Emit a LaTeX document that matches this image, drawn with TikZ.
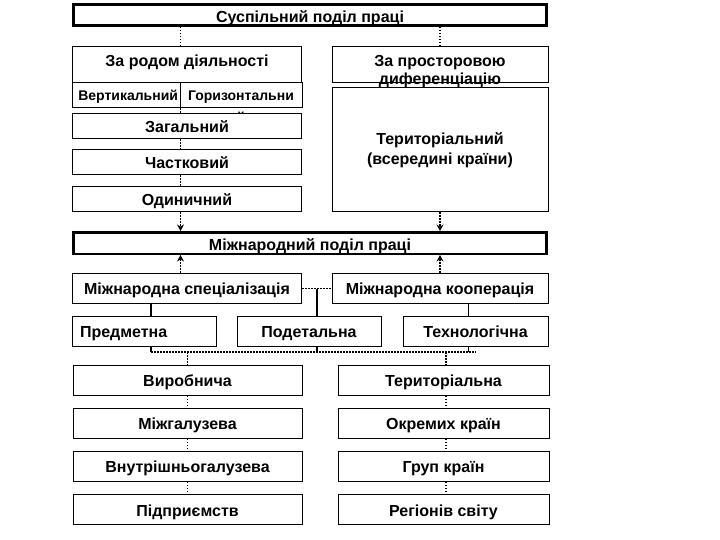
\documentclass[tikz,border=0pt]{standalone}
\usepackage{fontspec}
\setmainfont{Liberation Sans}
\usetikzlibrary{arrows.meta,calc}

\tikzset{
  box/.style={draw, line width=1pt, fill=white, inner sep=0pt, minimum height=30pt, text height=11.5pt, text depth=0pt, font=\bfseries\fontsize{16}{18}\selectfont},
  heavy/.style={box, line width=2.5pt},
  small/.style={font=\bfseries\fontsize{14}{22}\selectfont, inner sep=0pt},
  lbl/.style={font=\bfseries\fontsize{16}{18}\selectfont, inner sep=0pt},
  link/.style={line width=1.3pt, dash pattern=on 1.6pt off 1.4pt},
  tie/.style={line width=1.5pt},
  arr/.style={link, -{Stealth[length=6.5pt,width=7pt]}}
}

\begin{document}
\begin{tikzpicture}[x=1pt,y=-1pt]
\useasboundingbox (0,0) rectangle (720,540);

\node[heavy, minimum width=473pt, minimum height=21pt, text height=15pt] (soc) at (310,15) {Суспільний поділ праці};

\node[box, minimum width=229pt, minimum height=36pt, text depth=7pt] (rod) at (187,64.5) {За родом діяльності};
\node[box, small, minimum height=25pt, text height=10pt, text depth=0pt, text width=104pt, inner xsep=2pt, align=right] (vert) at (126,95.5) {Вертикальний};
\node[box, minimum width=122pt, minimum height=25pt] (horiz) at (241,95.5) {};
\node[small, anchor=north, align=center] (horlbl) at ([yshift=-8pt]horiz.north) {Горизонтальни\\й};

\node[box, minimum width=216pt, minimum height=36pt] (spat) at (440,64.5) {};
\node[lbl, anchor=north, align=center] (spatlbl) at ([yshift=-9pt]spat.north) {За просторовою\\диференціацію};
\node[box, minimum width=216pt, minimum height=124pt, text height={}, text depth={}, align=center, font=\bfseries\fontsize{16}{20}\selectfont] (terr) at (440,150) {Територіальний\\(всередині країни)};

\node[box, minimum width=229pt, minimum height=25pt] (gen) at (187,126.5) {Загальний};
\node[box, minimum width=229pt, minimum height=25pt] (part) at (187,162.5) {Частковий};
\node[box, minimum width=229pt, minimum height=25pt] (single) at (187,199.5) {Одиничний};

\node[heavy, minimum width=473pt, minimum height=21.5pt, text height=15pt] (intl) at (310,243) {Міжнародний поділ праці};

\node[box, minimum width=229pt] (spec) at (187,288.5) {Міжнародна спеціалізація};
\node[box, minimum width=216pt] (coop) at (440,288.5) {Міжнародна кооперація};

\node[box, text width=128pt, inner xsep=8pt, align=left] (subj) at (144,331.5) {Предметна};
\node[box, minimum width=144pt] (detail) at (309,331.5) {Подетальна};
\node[box, minimum width=145pt] (tech) at (475.5,331.5) {Технологічна};

\foreach \n/\y/\l/\r in {1/380/Виробнича/Територіальна, 2/423/Міжгалузева/Окремих країн, 3/466/Внутрішньогалузева/Груп країн, 4/509.5/Підприємств/Регіонів світу} {
  \node[box, minimum width=229pt, text height=13pt] (L\n) at (187.5,\y) {\l};
  \node[box, minimum width=211pt, text height=13pt] (R\n) at (443.5,\y) {\r};
}

\draw[link] (soc.south -| vert.east) -- (rod.north -| vert.east);
\draw[link] (soc.south -| spat.north) -- (spat.north);
\draw[link] (vert.south east) -- (gen.north -| vert.south east);
\draw[link] (gen.south -| vert.east) -- (part.north -| vert.east);
\draw[link] (part.south -| vert.east) -- (single.north -| vert.east);
\draw[arr] (single.south -| vert.east) -- (intl.north -| vert.east);
\draw[arr] (terr.south) -- (intl.north -| terr.south);
\draw[arr] (spec.north -| vert.east) -- (intl.south -| vert.east);
\draw[arr] (coop.north) -- (intl.south -| coop.north);

\coordinate (mid) at ($(spec.east)!0.5!(coop.west)$);
\draw[link] (spec.east) -- (coop.west);
\draw[tie] (mid) -- (mid |- detail.north);
\draw[tie] ([xshift=7pt]subj.north) -- ([xshift=7pt]subj.north |- spec.south);
\draw[tie] ([xshift=-7pt]tech.north) -- ([xshift=-7pt]tech.north |- coop.south);

\coordinate (busL) at ([xshift=7pt,yshift=-5pt]subj.south);
\coordinate (busR) at ([yshift=-5pt]tech.south);
\draw[tie] ([xshift=7pt]subj.south) -- (busL);
\draw[tie] (mid |- detail.south) -- (mid |- busL);
\draw[tie] ([xshift=-7pt]tech.south) -- ([xshift=-7pt]tech.south |- busL);
\draw[link] (busL) -- (busR);
\draw[link] (L1.north |- busL) -- (L1.north);
\draw[link] ([xshift=2.5pt]R1.north |- busL) -- ([xshift=2.5pt]R1.north);

\foreach \a/\b in {1/2, 2/3, 3/4} {
  \draw[link] (L\a.south) -- (L\b.north);
  \draw[link] ([xshift=2.5pt]R\a.south) -- ([xshift=2.5pt]R\b.north);
}
\end{tikzpicture}
\end{document}
